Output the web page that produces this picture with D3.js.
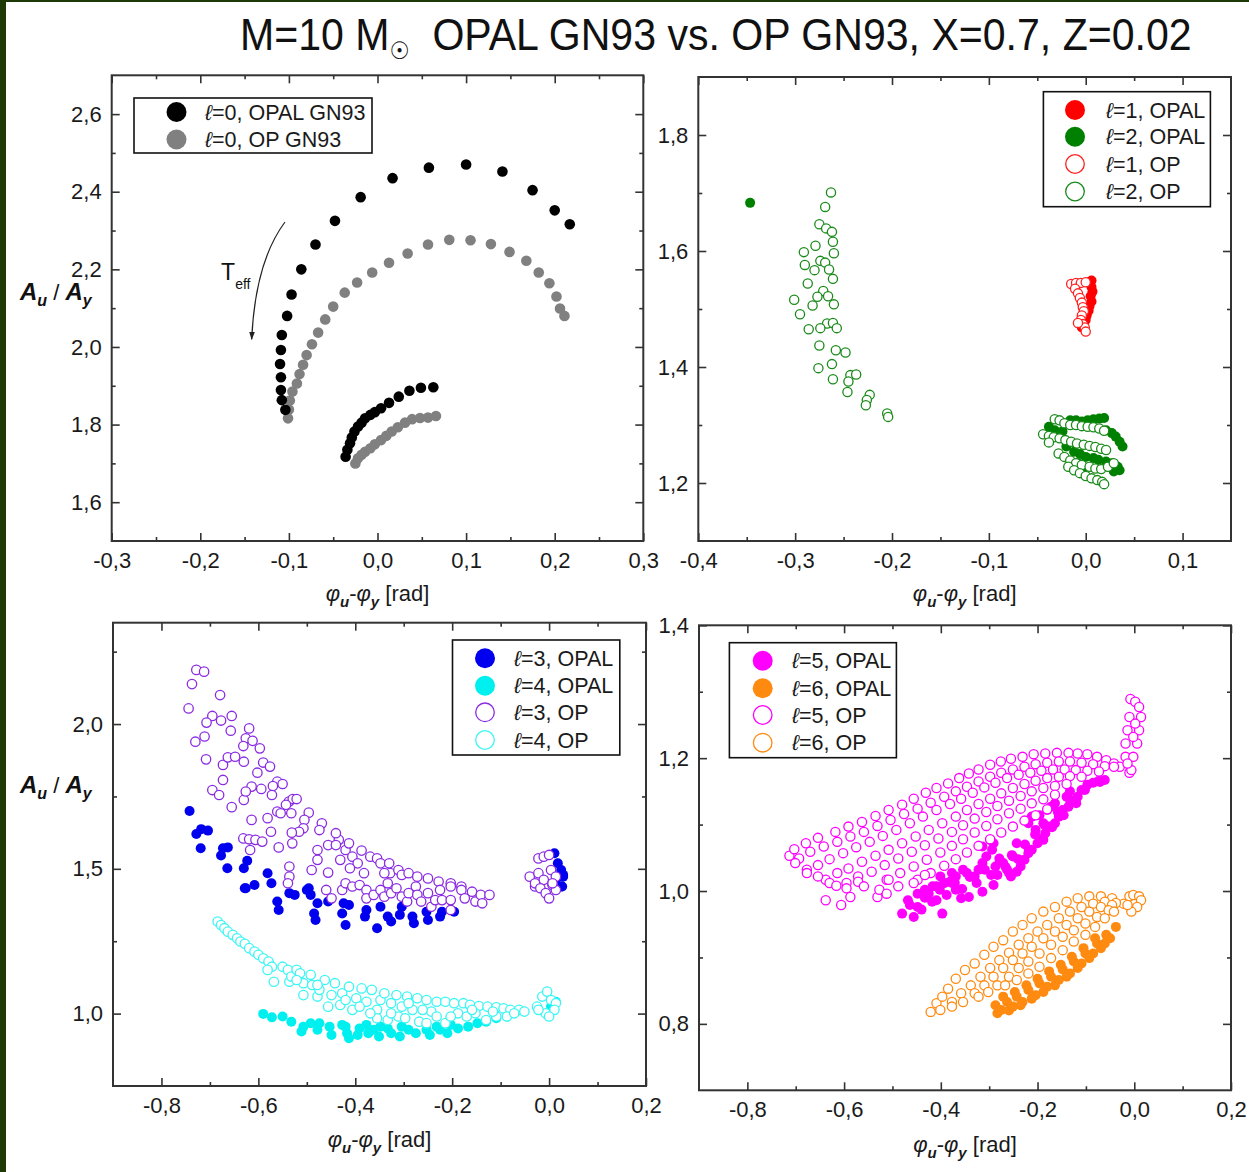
<!DOCTYPE html>
<html>
<head>
<meta charset="utf-8">
<script src="https://cdn.jsdelivr.net/npm/d3@7"></script>
<style>
  body { margin: 0; background: #fff; }
  svg text { font-family: "Liberation Sans", Arial, Helvetica, sans-serif; }
</style>
</head>
<body>
<svg id="chart" width="1249" height="1172"></svg>
<script>
// ---------- data: [phase difference φu-φy (rad), amplitude ratio Au/Ay] ----------

// l = 0, radial modes
const l0Opal = [[0.217,2.316],[0.200,2.352],[0.175,2.404],[0.141,2.452],[0.100,2.470],[0.058,2.462],[0.017,2.435],[-0.019,2.386],[-0.048,2.325],[-0.070,2.264],[-0.086,2.200],[-0.097,2.135],[-0.102,2.080],[-0.108,2.031],[-0.109,1.992],[-0.110,1.956],[-0.109,1.922],[-0.109,1.889],[-0.108,1.863],[-0.104,1.838],
  [-0.036,1.717],[-0.034,1.735],[-0.031,1.752],[-0.029,1.767],[-0.026,1.782],[-0.022,1.795],[-0.018,1.805],[-0.014,1.816],[-0.008,1.825],[-0.003,1.832],[0.004,1.842],[0.013,1.856],[0.024,1.872],[0.036,1.887],[0.049,1.895],[0.063,1.896]];
const l0Op = [[0.211,2.080],[0.206,2.099],[0.202,2.130],[0.194,2.164],[0.182,2.192],[0.168,2.222],[0.149,2.245],[0.128,2.265],[0.105,2.275],[0.081,2.276],[0.057,2.264],[0.034,2.241],[0.013,2.217],[-0.006,2.192],[-0.023,2.166],[-0.037,2.140],[-0.050,2.104],[-0.059,2.071],[-0.067,2.037],[-0.074,2.007],[-0.080,1.979],[-0.084,1.954],[-0.088,1.930],[-0.091,1.906],[-0.096,1.885],[-0.099,1.862],[-0.100,1.839],[-0.101,1.816],
  [-0.025,1.700],[-0.022,1.713],[-0.018,1.722],[-0.014,1.730],[-0.008,1.739],[-0.003,1.749],[0.004,1.760],[0.010,1.771],[0.016,1.782],[0.023,1.793],[0.031,1.805],[0.039,1.814],[0.048,1.817],[0.057,1.818],[0.066,1.822]];

// l = 1 and l = 2
const l1Opal = [[0.006,1.549],[0.003,1.546],[0.006,1.538],[0.007,1.530],[0.005,1.522],[0.006,1.513],[0.004,1.505],[0.003,1.497],[0.001,1.489],[0.000,1.481],[-0.002,1.474],[-0.004,1.468]];
const l1Op = [[-0.015,1.543],[-0.010,1.545],[-0.005,1.545],[0.000,1.546],[-0.011,1.535],[-0.008,1.527],[-0.006,1.519],[-0.004,1.511],[-0.003,1.503],[-0.002,1.496],[-0.004,1.489],[-0.005,1.481],[-0.003,1.474],[-0.001,1.468],[0.000,1.461],[-0.008,1.476]];
const l2Opal = [[-0.3465,1.683],
  [-0.038,1.297],[-0.032,1.291],[-0.024,1.289],[-0.016,1.308],[-0.010,1.308],[-0.004,1.306],[0.002,1.308],[0.008,1.310],[0.014,1.311],[0.019,1.312],[0.021,1.291],[0.027,1.286],[0.031,1.280],[0.035,1.271],[0.038,1.263],[-0.020,1.263],[-0.012,1.254],[-0.006,1.250],[0.000,1.245],[0.008,1.243],[0.013,1.240],[0.021,1.237],[0.027,1.234],[0.033,1.228],[0.035,1.222],[0.029,1.220],[-0.008,1.234],[-0.004,1.222]];
const l2Op = [[-0.263,1.701],[-0.269,1.676],[-0.275,1.646],[-0.268,1.639],[-0.262,1.633],[-0.261,1.616],[-0.279,1.609],[-0.291,1.598],[-0.260,1.596],[-0.274,1.583],[-0.269,1.580],[-0.290,1.576],[-0.280,1.567],[-0.265,1.568],[-0.261,1.552],[-0.287,1.544],[-0.271,1.531],[-0.277,1.521],[-0.266,1.522],[-0.301,1.516],[-0.282,1.506],[-0.260,1.508],[-0.295,1.491],[-0.267,1.475],[-0.261,1.476],[-0.286,1.465],[-0.274,1.467],[-0.257,1.467],[-0.275,1.437],[-0.258,1.429],[-0.248,1.425],[-0.262,1.405],[-0.276,1.398],[-0.261,1.379],[-0.243,1.386],[-0.237,1.387],[-0.245,1.375],[-0.246,1.357],[-0.223,1.352],[-0.226,1.343],[-0.227,1.334],[-0.205,1.320],[-0.204,1.314],
  [-0.032,1.310],[-0.027,1.308],[-0.022,1.303],[-0.016,1.300],[-0.010,1.300],[-0.004,1.298],[0.002,1.297],[0.008,1.296],[0.014,1.294],[0.019,1.290],
  [-0.044,1.284],[-0.038,1.281],[-0.033,1.279],[-0.027,1.277],[-0.021,1.274],[-0.015,1.271],[-0.009,1.268],[-0.002,1.266],[0.004,1.264],[0.010,1.262],[0.016,1.259],[0.021,1.257],
  [-0.038,1.270],[-0.028,1.251],[-0.022,1.245],[-0.016,1.239],[-0.010,1.234],[-0.004,1.231],[0.004,1.228],[0.010,1.225],[0.016,1.224],[0.023,1.228],[0.029,1.234],
  [-0.018,1.228],[-0.012,1.222],[-0.006,1.217],[0.000,1.212],[0.006,1.208],[0.012,1.205],[0.017,1.202],[0.019,1.198]];

// l = 3 and l = 4
const l3Opal = [[-0.742,1.700],[-0.728,1.620],[-0.718,1.637],[-0.704,1.632],[-0.719,1.571],[-0.677,1.546],[-0.673,1.571],[-0.663,1.574],[-0.664,1.502],[-0.630,1.502],[-0.623,1.528],[-0.628,1.433],[-0.608,1.444],[-0.581,1.485],[-0.573,1.450],[-0.496,1.433],
  [-0.626,1.433],[-0.561,1.387],[-0.558,1.358],[-0.536,1.416],[-0.525,1.410],[-0.500,1.427],[-0.492,1.410],[-0.478,1.381],[-0.485,1.346],[-0.482,1.323],[-0.456,1.387],[-0.424,1.381],[-0.427,1.346],[-0.420,1.306],[-0.413,1.375],[-0.380,1.335],[-0.377,1.358],[-0.355,1.295],[-0.348,1.369],[-0.333,1.335],[-0.326,1.318],[-0.308,1.341],[-0.304,1.369],[-0.282,1.335],[-0.279,1.312],[-0.253,1.352],[-0.250,1.323],[-0.225,1.335],[-0.221,1.352],[-0.196,1.352],
  [0.011,1.554],[0.018,1.519],[0.025,1.496],[0.029,1.473],[0.027,1.439],[0.029,1.479],[0.025,1.439],[0.014,1.462]];
const l3Op = [[-0.728,2.187],[-0.712,2.181],[-0.737,2.138],[-0.679,2.100],[-0.744,2.054],[-0.695,2.028],[-0.655,2.028],[-0.707,2.005],[-0.677,2.012],[-0.657,1.977],[-0.619,1.985],[-0.730,1.939],[-0.711,1.957],[-0.626,1.951],[-0.612,1.942],[-0.631,1.924],[-0.597,1.916],[-0.708,1.878],[-0.673,1.859],[-0.663,1.885],[-0.648,1.887],[-0.630,1.870],[-0.590,1.867],[-0.602,1.832],[-0.576,1.853],[-0.695,1.772],[-0.673,1.807],[-0.681,1.755],[-0.655,1.713],[-0.630,1.738],[-0.614,1.784],[-0.594,1.776],[-0.626,1.767],[-0.561,1.801],[-0.570,1.786],[-0.550,1.793],[-0.572,1.755],[-0.537,1.732],[-0.529,1.741],[-0.521,1.741],[-0.543,1.721],[-0.561,1.698],[-0.532,1.692],[-0.614,1.669],[-0.581,1.675],[-0.574,1.628],[-0.554,1.692],[-0.496,1.694],[-0.505,1.669],[-0.469,1.657],[-0.474,1.634],[-0.507,1.640],[-0.516,1.628],[-0.531,1.625],[-0.530,1.588],[-0.558,1.574],[-0.631,1.605],[-0.619,1.602],[-0.617,1.565],[-0.606,1.600],[-0.592,1.594],[-0.490,1.496],[-0.478,1.565],[-0.478,1.531],[-0.456,1.582],[-0.456,1.487],[-0.434,1.600],[-0.431,1.531],[-0.440,1.623],[-0.440,1.582],[-0.420,1.565],[-0.413,1.588],[-0.406,1.542],[-0.387,1.563],[-0.395,1.519],[-0.411,1.502],[-0.369,1.542],[-0.382,1.485],[-0.355,1.536],[-0.348,1.519],[-0.330,1.519],[-0.328,1.485],[-0.340,1.485],[-0.311,1.496],[-0.304,1.479],[-0.290,1.485],[-0.272,1.473],[-0.250,1.467],[-0.228,1.456],[-0.203,1.450],[-0.181,1.439],[-0.536,1.508],[-0.536,1.473],[-0.539,1.450],
  [-0.460,1.427],[-0.449,1.398],[-0.427,1.427],[-0.420,1.450],[-0.406,1.439],[-0.391,1.444],[-0.377,1.427],[-0.377,1.398],[-0.362,1.410],[-0.348,1.427],[-0.340,1.404],[-0.333,1.450],[-0.326,1.416],[-0.315,1.433],[-0.304,1.404],[-0.293,1.387],[-0.290,1.416],[-0.275,1.439],[-0.272,1.410],[-0.264,1.387],[-0.250,1.416],[-0.243,1.369],[-0.235,1.392],[-0.225,1.427],[-0.221,1.392],[-0.203,1.439],[-0.203,1.392],[-0.181,1.427],[-0.174,1.398],[-0.159,1.421],[-0.152,1.387],[-0.141,1.410],[-0.123,1.410],[-0.138,1.381],[-0.203,1.358],
  [-0.022,1.536],[-0.011,1.542],[0.000,1.548],[-0.040,1.473],[-0.022,1.485],[-0.011,1.462],[0.004,1.496],[0.014,1.473],[0.007,1.444],[-0.029,1.439],[-0.029,1.450],[-0.018,1.433],[-0.007,1.416],[0.000,1.398],[0.014,1.427],[0.007,1.450]];
const l4Opal = [[-0.590,0.999],[-0.572,0.987],[-0.550,0.990],[-0.532,0.972],[-0.507,0.955],[-0.511,0.938],[-0.492,0.967],[-0.474,0.967],[-0.453,0.955],[-0.449,0.926],[-0.427,0.961],[-0.417,0.932],[-0.413,0.915],[-0.395,0.926],[-0.377,0.961],[-0.373,0.932],[-0.351,0.921],[-0.348,0.955],[-0.326,0.932],[-0.308,0.921],[-0.304,0.955],[-0.290,0.944],[-0.275,0.932],[-0.253,0.944],[-0.246,0.926],[-0.225,0.944],[-0.210,0.932],[-0.188,0.949],[-0.167,0.955],[-0.148,0.967],[-0.130,0.972],[-0.109,0.984],[-0.087,0.990],
  [-0.478,0.944],[-0.420,0.955],[-0.391,0.949],[-0.362,0.944],[-0.333,0.949],[-0.232,0.955],[-0.203,0.961],[0.004,1.024],[0.014,1.041]];
const l4Op = [[-0.684,1.318],[-0.677,1.306],[-0.670,1.295],[-0.663,1.283],[-0.653,1.272],[-0.644,1.260],[-0.637,1.249],[-0.628,1.241],[-0.619,1.226],[-0.608,1.214],[-0.600,1.203],[-0.590,1.191],[-0.579,1.180],[-0.572,1.162],[-0.581,1.151],[-0.568,1.110],[-0.550,1.162],[-0.539,1.151],[-0.536,1.110],[-0.532,1.128],[-0.521,1.151],[-0.514,1.139],[-0.507,1.105],[-0.507,1.064],[-0.492,1.134],[-0.489,1.099],[-0.478,1.059],[-0.474,1.082],[-0.463,1.116],[-0.456,1.024],[-0.449,1.064],[-0.442,1.105],[-0.431,1.030],[-0.427,1.070],[-0.413,1.093],[-0.406,1.013],[-0.398,1.053],[-0.387,1.087],[-0.377,1.041],[-0.366,1.082],[-0.355,1.013],[-0.348,1.047],[-0.340,1.070],[-0.326,1.036],[-0.311,0.990],[-0.315,1.064],[-0.304,1.024],[-0.293,1.059],[-0.282,1.013],[-0.272,1.053],[-0.268,0.972],[-0.253,1.047],[-0.243,1.007],[-0.232,1.041],[-0.214,0.967],[-0.214,1.041],[-0.196,1.036],[-0.177,1.036],[-0.163,1.030],[-0.145,1.026],[-0.127,1.024],[-0.109,1.022],[-0.094,1.018],[-0.080,1.013],[-0.062,1.013],[-0.051,1.007],[-0.188,1.001],[-0.170,0.990],[-0.152,1.001],[-0.130,0.978],[-0.109,0.990],[-0.087,0.990],[-0.232,0.990],[-0.253,0.967],[-0.297,0.984],[-0.333,0.978],[-0.355,0.984],
  [-0.521,1.116],[-0.478,1.099],[-0.420,1.047],[-0.391,1.024],[-0.369,1.001],[-0.326,1.001],[-0.290,1.036],[-0.261,1.013],[-0.203,0.990],[-0.159,1.013],[-0.116,1.007],[-0.072,1.001],
  [-0.025,1.024],[-0.014,1.059],[-0.004,1.076],[0.004,1.047],[0.014,1.036],[0.011,1.013],[-0.007,1.001],[-0.022,1.013],[0.000,0.990]];

// l = 5 and l = 6
const l5Opal = [[-0.061,1.167],[-0.073,1.166],[-0.085,1.163],[-0.097,1.160],[-0.109,1.152],[-0.117,1.142],[-0.129,1.134],[-0.136,1.127],[-0.148,1.122],[-0.156,1.112],[-0.164,1.102],[-0.176,1.097],[-0.184,1.087],[-0.188,1.077],[-0.200,1.072],[-0.212,1.062],[-0.219,1.057],[-0.227,1.047],[-0.235,1.037],[-0.243,1.029],[-0.255,1.022],[-0.263,1.032],[-0.271,1.042],[-0.279,1.049],[-0.287,1.037],[-0.294,1.062],[-0.306,1.052],[-0.314,1.042],[-0.322,1.032],[-0.330,1.022],[-0.346,1.027],[-0.354,1.032],[-0.369,1.022],[-0.381,1.014],[-0.393,1.012],[-0.409,1.007],[-0.291,1.072],[-0.298,1.077],[-0.314,1.067],[-0.219,1.102],[-0.212,1.112],[-0.196,1.114],[-0.180,1.122],[-0.140,1.142],[-0.133,1.150],[-0.172,1.127],[-0.204,1.092],[-0.243,1.072],[-0.251,1.052],[-0.164,1.132],[-0.188,1.102],
  [-0.401,1.022],[-0.393,1.012],[-0.417,1.007],[-0.425,0.996],[-0.409,0.986],[-0.397,0.966],[-0.448,0.976],[-0.456,0.961],[-0.480,0.966],[-0.468,0.986],[-0.448,0.996],[-0.433,1.002],[-0.377,1.027],[-0.369,1.002],[-0.358,0.989],[-0.342,0.991],[-0.314,0.999],[-0.291,1.009],[-0.283,1.024],[-0.259,1.027],[-0.377,1.012],
  [-0.071,1.164],[-0.102,1.152],[-0.133,1.137],[-0.158,1.119],[-0.185,1.099],[-0.205,1.085],[-0.226,1.070],[-0.253,1.054],[-0.278,1.044],[-0.309,1.032],[-0.340,1.021],[-0.371,1.012],[-0.402,1.002],[-0.433,0.990],[-0.464,0.979],
  [-0.120,1.132],[-0.146,1.114],[-0.170,1.096],[-0.195,1.078],[-0.218,1.062],[-0.240,1.048],[-0.266,1.036],[-0.296,1.024],[-0.326,1.012],[-0.356,1.003],[-0.388,0.994],[-0.418,0.984],[-0.440,0.972]];
const l5Op = [[-0.713,1.053],[-0.703,1.063],[-0.679,1.072],[-0.654,1.080],[-0.618,1.089],[-0.591,1.097],[-0.563,1.104],[-0.535,1.113],[-0.508,1.122],[-0.480,1.130],[-0.456,1.139],[-0.431,1.148],[-0.409,1.155],[-0.385,1.162],[-0.362,1.170],[-0.342,1.177],[-0.322,1.183],[-0.298,1.190],[-0.276,1.195],[-0.255,1.199],[-0.231,1.202],[-0.208,1.206],[-0.184,1.207],[-0.160,1.208],[-0.136,1.208],[-0.117,1.207],[-0.097,1.206],[-0.077,1.202],[-0.058,1.197],[-0.042,1.192],[-0.030,1.187],
  [-0.010,1.178],[-0.018,1.202],[-0.018,1.222],[-0.014,1.242],[-0.010,1.262],[-0.008,1.289],[0.002,1.285],[0.010,1.277],[0.014,1.262],[0.010,1.242],[0.006,1.222],[-0.002,1.202],[-0.006,1.182],[-0.014,1.192],[0.002,1.252],[-0.002,1.232],
  [-0.693,1.049],[-0.670,1.059],[-0.642,1.067],[-0.614,1.074],[-0.587,1.082],[-0.559,1.089],[-0.531,1.098],[-0.504,1.107],[-0.476,1.116],[-0.448,1.124],[-0.421,1.133],[-0.393,1.142],[-0.369,1.150],[-0.346,1.157],[-0.322,1.165],[-0.298,1.172],[-0.275,1.178],[-0.251,1.183],[-0.227,1.187],[-0.204,1.191],[-0.180,1.193],[-0.156,1.195],[-0.133,1.195],[-0.109,1.193],[-0.085,1.191],[-0.061,1.188],[-0.042,1.187],
  [-0.677,1.032],[-0.654,1.039],[-0.630,1.048],[-0.602,1.057],[-0.575,1.066],[-0.547,1.074],[-0.520,1.083],[-0.492,1.092],[-0.464,1.102],[-0.437,1.112],[-0.409,1.122],[-0.381,1.131],[-0.358,1.139],[-0.334,1.148],[-0.310,1.156],[-0.287,1.163],[-0.263,1.170],[-0.239,1.175],[-0.215,1.178],[-0.192,1.181],[-0.168,1.183],[-0.144,1.183],[-0.121,1.182],[-0.097,1.181],[-0.073,1.180],
  [-0.638,1.017],[-0.614,1.027],[-0.591,1.034],[-0.563,1.044],[-0.535,1.053],[-0.508,1.062],[-0.480,1.072],[-0.452,1.082],[-0.425,1.092],[-0.397,1.102],[-0.369,1.112],[-0.346,1.122],[-0.322,1.131],[-0.298,1.139],[-0.275,1.147],[-0.251,1.155],[-0.227,1.161],[-0.204,1.166],[-0.180,1.170],[-0.156,1.172],[-0.133,1.173],[-0.109,1.172],
  [-0.595,1.012],[-0.571,1.022],[-0.543,1.029],[-0.516,1.039],[-0.488,1.049],[-0.460,1.059],[-0.433,1.069],[-0.405,1.079],[-0.377,1.089],[-0.354,1.099],[-0.330,1.109],[-0.306,1.119],[-0.283,1.128],[-0.259,1.136],[-0.235,1.143],[-0.212,1.150],[-0.188,1.155],[-0.164,1.158],[-0.140,1.161],
  [-0.512,1.017],[-0.484,1.027],[-0.456,1.037],[-0.429,1.047],[-0.401,1.058],[-0.377,1.068],[-0.354,1.078],[-0.330,1.088],[-0.306,1.098],[-0.283,1.108],[-0.259,1.117],[-0.235,1.124],[-0.212,1.132],[-0.188,1.138],[-0.164,1.145],
  [-0.448,1.017],[-0.421,1.027],[-0.393,1.038],[-0.369,1.048],[-0.346,1.058],[-0.322,1.068],[-0.298,1.078],[-0.275,1.088],[-0.251,1.097],[-0.227,1.106],[-0.204,1.114],[-0.180,1.123],
  [-0.638,0.986],[-0.606,0.979],[-0.630,1.012],[-0.616,1.008],[-0.595,1.004],[-0.587,0.991],[-0.571,1.014],[-0.559,1.007],[-0.531,0.991],[-0.527,1.002],[-0.512,0.996],[-0.508,1.017],[-0.488,1.007],[-0.456,1.012],[-0.433,1.024],[-0.677,1.027],[-0.701,1.042],[-0.654,1.022]];
const l6Opal = [[-0.283,0.816],[-0.259,0.820],[-0.235,0.828],[-0.212,0.838],[-0.188,0.848],[-0.164,0.858],[-0.140,0.871],[-0.117,0.884],[-0.093,0.899],[-0.069,0.914],[-0.050,0.929],
  [-0.287,0.828],[-0.263,0.833],[-0.243,0.841],[-0.219,0.851],[-0.196,0.861],[-0.172,0.871],[-0.148,0.882],[-0.125,0.894],[-0.101,0.906],[-0.077,0.921],[-0.058,0.934],[-0.038,0.946],
  [-0.275,0.821],[-0.251,0.826],[-0.231,0.833],[-0.204,0.843],[-0.180,0.856],[-0.156,0.866],[-0.133,0.876],[-0.109,0.891],[-0.085,0.906],[-0.061,0.921],
  [-0.271,0.841],[-0.247,0.848],[-0.223,0.858],[-0.200,0.868],[-0.176,0.879],[-0.152,0.889],[-0.129,0.901],[-0.105,0.914],[-0.081,0.929]];
const l6Op = [[-0.421,0.818],[-0.409,0.831],[-0.397,0.841],[-0.385,0.853],[-0.369,0.868],[-0.350,0.881],[-0.330,0.891],[-0.310,0.904],[-0.291,0.916],[-0.271,0.926],[-0.251,0.939],[-0.231,0.949],[-0.212,0.959],[-0.188,0.969],[-0.164,0.976],[-0.140,0.984],[-0.117,0.989],[-0.093,0.992],[-0.069,0.992],[-0.046,0.989],[-0.022,0.981],
  [-0.010,0.992],[-0.002,0.994],[0.010,0.992],[0.014,0.986],[0.006,0.976],[-0.006,0.969],[-0.014,0.979],
  [-0.401,0.821],[-0.377,0.833],[-0.358,0.846],[-0.338,0.858],[-0.318,0.871],[-0.298,0.884],[-0.279,0.896],[-0.259,0.907],[-0.239,0.919],[-0.219,0.929],[-0.200,0.939],[-0.180,0.949],[-0.156,0.959],[-0.133,0.969],[-0.109,0.976],[-0.085,0.981],[-0.061,0.984],[-0.038,0.982],
  [-0.377,0.826],[-0.354,0.833],[-0.330,0.846],[-0.310,0.858],[-0.291,0.871],[-0.271,0.884],[-0.251,0.896],[-0.231,0.906],[-0.212,0.916],[-0.188,0.929],[-0.164,0.939],[-0.140,0.949],[-0.117,0.959],[-0.093,0.969],[-0.069,0.976],[-0.046,0.979],
  [-0.322,0.841],[-0.302,0.848],[-0.283,0.858],[-0.259,0.871],[-0.239,0.884],[-0.219,0.894],[-0.196,0.906],[-0.172,0.919],[-0.148,0.931],[-0.125,0.941],[-0.101,0.951],[-0.077,0.961],[-0.053,0.971],
  [-0.267,0.858],[-0.243,0.866],[-0.219,0.876],[-0.196,0.886],[-0.172,0.899],[-0.148,0.911],[-0.125,0.924],[-0.101,0.934],[-0.081,0.946],[-0.061,0.959],[-0.042,0.969]];

// ---------- axis ticks ----------
const p1XMajor = [-0.3,-0.2,-0.1,0,0.1,0.2,0.3], p1XMinor = [-0.25,-0.15,-0.05,0.05,0.15,0.25];
const p1YMajor = [1.6,1.8,2.0,2.2,2.4,2.6],      p1YMinor = [1.7,1.9,2.1,2.3,2.5];
const p2XMajor = [-0.4,-0.3,-0.2,-0.1,0,0.1],    p2XMinor = [-0.35,-0.25,-0.15,-0.05,0.05];
const p2YMajor = [1.2,1.4,1.6,1.8],              p2YMinor = [1.3,1.5,1.7];
const p3XMajor = [-0.8,-0.6,-0.4,-0.2,0,0.2],    p3XMinor = [-0.7,-0.5,-0.3,-0.1,0.1];
const p3YMajor = [1.0,1.5,2.0],                  p3YMinor = [1.25,1.75,2.25];
const p4XMajor = [-0.8,-0.6,-0.4,-0.2,0,0.2],    p4XMinor = [-0.7,-0.5,-0.3,-0.1,0.1];
const p4YMajor = [0.8,1.0,1.2,1.4],              p4YMinor = [0.9,1.1,1.3];

// ---------- drawing ----------
const svg = d3.select("#chart");
svg.append("rect").attr("width", 1249).attr("height", 1172).attr("fill", "#fff");
svg.append("rect").attr("x", 0).attr("y", 0).attr("width", 6).attr("height", 1172).attr("fill", "#1e3806");
svg.append("rect").attr("x", 0).attr("y", 0).attr("width", 1249).attr("height", 2).attr("fill", "#1e3806");

const locale = d3.formatLocale({decimal: ",", thousands: " ", grouping: [3], currency: ["", ""], minus: "-"});
const fmt = locale.format(".1f");
const FRAME = "#333";

function panel(cfg) {
  const g = svg.append("g");
  const x = d3.scaleLinear().domain(cfg.xDomain).range([cfg.left, cfg.right]);
  const y = d3.scaleLinear().domain(cfg.yDomain).range([cfg.bottom, cfg.top]);

  const styleAxis = (sel) => {
    sel.select(".domain").remove();
    sel.selectAll(".tick line").attr("stroke", FRAME).attr("stroke-width", 1.6);
    sel.selectAll(".tick text").attr("fill", "#1a1a1a").style("font-size", "22px");
  };
  // labelled axes
  g.append("g").attr("transform", `translate(0,${cfg.bottom})`)
    .call(d3.axisBottom(x).tickValues(cfg.xMajor).tickSizeInner(-8).tickSizeOuter(0).tickPadding(11).tickFormat(fmt))
    .call(styleAxis);
  g.append("g").attr("transform", `translate(${cfg.left},0)`)
    .call(d3.axisLeft(y).tickValues(cfg.yMajor).tickSizeInner(-8).tickSizeOuter(0).tickPadding(10).tickFormat(fmt))
    .call(styleAxis);
  // mirrored and minor ticks
  const blank = () => "";
  [[d3.axisBottom, `translate(0,${cfg.bottom})`, x, cfg.xMinor, 4],
   [d3.axisTop, `translate(0,${cfg.top})`, x, cfg.xMajor, 8],
   [d3.axisTop, `translate(0,${cfg.top})`, x, cfg.xMinor, 4],
   [d3.axisLeft, `translate(${cfg.left},0)`, y, cfg.yMinor, 4],
   [d3.axisRight, `translate(${cfg.right},0)`, y, cfg.yMajor, 8],
   [d3.axisRight, `translate(${cfg.right},0)`, y, cfg.yMinor, 4]
  ].forEach(([ax, tr, sc, vals, len]) => {
    g.append("g").attr("transform", tr)
      .call(ax(sc).tickValues(vals).tickSizeInner(-len).tickSizeOuter(0).tickFormat(blank))
      .call(styleAxis);
  });
  g.append("rect").attr("x", cfg.left).attr("y", cfg.top)
    .attr("width", cfg.right - cfg.left).attr("height", cfg.bottom - cfg.top)
    .attr("fill", "none").attr("stroke", FRAME).attr("stroke-width", 2);

  // data series
  const plot = g.append("g");
  cfg.series.forEach(s => {
    plot.append("g").selectAll("circle").data(s.data).join("circle")
      .attr("cx", d => x(d[0])).attr("cy", d => y(d[1])).attr("r", s.r)
      .attr("fill", s.filled ? s.color : "#fff")
      .attr("stroke", s.color).attr("stroke-width", s.filled ? 0 : 1.3);
  });

  // legend
  const L = cfg.legend;
  const lg = g.append("g");
  lg.append("rect").attr("x", L.x0).attr("y", L.y0).attr("width", L.x1 - L.x0).attr("height", L.y1 - L.y0)
    .attr("fill", "#fff").attr("stroke", "#111").attr("stroke-width", 1.6);
  L.items.forEach((it, i) => {
    const cy = L.rowY[i];
    lg.append("circle").attr("cx", L.mx).attr("cy", cy).attr("r", it.filled ? 10 : 9.3)
      .attr("fill", it.filled ? it.color : "#fff").attr("stroke", it.color).attr("stroke-width", it.filled ? 0 : 1.3);
    const t = lg.append("text").attr("x", L.tx).attr("y", cy + 7.5).style("font-size", "21.5px").attr("fill", "#1a1a1a");
    t.append("tspan").style("font-style", "italic").text("ℓ");
    t.append("tspan").text(it.label);
  });

  // x axis title
  const xt = g.append("text").attr("x", (cfg.left + cfg.right) / 2).attr("y", cfg.xTitleY)
    .attr("text-anchor", "middle").style("font-size", "22px").attr("fill", "#1a1a1a");
  xt.append("tspan").style("font-style", "italic").text("φ");
  xt.append("tspan").style("font-style", "italic").style("font-weight", "bold").style("font-size", "15px").attr("dy", 6).text("u");
  xt.append("tspan").attr("dy", -6).text("-");
  xt.append("tspan").style("font-style", "italic").text("φ");
  xt.append("tspan").style("font-style", "italic").style("font-weight", "bold").style("font-size", "15px").attr("dy", 6).text("y");
  xt.append("tspan").attr("dy", -6).text(" [rad]");

  // y axis title
  if (cfg.yTitleY) {
    const yt = g.append("text").attr("x", 20).attr("y", cfg.yTitleY).style("font-size", "24px").attr("fill", "#111")
      .style("white-space", "pre");
    yt.append("tspan").style("font-style", "italic").style("font-weight", "bold").text("A");
    yt.append("tspan").style("font-style", "italic").style("font-weight", "bold").style("font-size", "16px").attr("dy", 6).text("u");
    yt.append("tspan").attr("dy", -6).style("font-size", "22px").text(" / ");
    yt.append("tspan").style("font-style", "italic").style("font-weight", "bold").text("A");
    yt.append("tspan").style("font-style", "italic").style("font-weight", "bold").style("font-size", "16px").attr("dy", 6).text("y");
  }
  return {g, x, y};
}

// top left: radial modes
const P1 = panel({
  left: 111.7, right: 643.3, top: 75.3, bottom: 541,
  xDomain: [-0.3, 0.3], yDomain: [1.5, 2.7],
  xMajor: p1XMajor, xMinor: p1XMinor, yMajor: p1YMajor, yMinor: p1YMinor,
  series: [
    {data: l0Op, color: "#808080", filled: true, r: 5.3},
    {data: l0Opal, color: "#000", filled: true, r: 5.3}
  ],
  legend: {x0: 134, y0: 98, x1: 372, y1: 153, mx: 176.5, tx: 205, rowY: [112, 139.5],
    items: [{label: "=0, OPAL GN93", color: "#000", filled: true},
            {label: "=0, OP GN93", color: "#808080", filled: true}]},
  xTitleY: 601, yTitleY: 300
});

// effective temperature direction
{
  const {g, x, y} = P1;
  const defs = svg.append("defs");
  defs.append("marker").attr("id", "arrowhead").attr("viewBox", "0 0 10 10").attr("refX", 9).attr("refY", 5)
    .attr("markerWidth", 7).attr("markerHeight", 7).attr("orient", "auto")
    .append("path").attr("d", "M0,1.5 L10,5 L0,8.5 Z").attr("fill", "#222");
  const arc = [[-0.1044, 2.322], [-0.1380, 2.219], [-0.1420, 2.020]];
  const p = d3.path();
  p.moveTo(x(arc[0][0]), y(arc[0][1]));
  p.quadraticCurveTo(x(arc[1][0]), y(arc[1][1]), x(arc[2][0]), y(arc[2][1]));
  g.append("path").attr("d", p.toString()).attr("fill", "none").attr("stroke", "#222").attr("stroke-width", 1.2)
    .attr("marker-end", "url(#arrowhead)");
  const t = g.append("text").attr("x", x(-0.1765)).attr("y", y(2.173)).style("font-size", "23px").attr("fill", "#111");
  t.append("tspan").text("T");
  t.append("tspan").attr("dy", 9).style("font-size", "14px").text("eff");
}

// top right: dipole and quadrupole modes
panel({
  left: 698.3, right: 1231, top: 77, bottom: 541,
  xDomain: [-0.4, 0.15], yDomain: [1.1, 1.9],
  xMajor: p2XMajor, xMinor: p2XMinor, yMajor: p2YMajor, yMinor: p2YMinor,
  series: [
    {data: l1Opal, color: "#ff0000", filled: true, r: 5},
    {data: l2Opal, color: "#008000", filled: true, r: 5},
    {data: l1Op, color: "#ff2020", filled: false, r: 4.6},
    {data: l2Op, color: "#1a8a1a", filled: false, r: 4.6}
  ],
  legend: {x0: 1043.4, y0: 91.7, x1: 1210.4, y1: 206.7, mx: 1075, tx: 1106, rowY: [110, 136.7, 164, 191.5],
    items: [{label: "=1, OPAL", color: "#ff0000", filled: true},
            {label: "=2, OPAL", color: "#008000", filled: true},
            {label: "=1, OP", color: "#ff2020", filled: false},
            {label: "=2, OP", color: "#1a8a1a", filled: false}]},
  xTitleY: 601
});

// bottom left: l = 3, 4
panel({
  left: 113, right: 646, top: 622.7, bottom: 1086,
  xDomain: [-0.9, 0.2], yDomain: [0.75, 2.35],
  xMajor: p3XMajor, xMinor: p3XMinor, yMajor: p3YMajor, yMinor: p3YMinor,
  series: [
    {data: l4Opal, color: "#00f0f0", filled: true, r: 5},
    {data: l4Op, color: "#3cf5f5", filled: false, r: 4.7},
    {data: l3Opal, color: "#0000ee", filled: true, r: 5},
    {data: l3Op, color: "#8a2be2", filled: false, r: 4.7}
  ],
  legend: {x0: 452.5, y0: 640, x1: 619.8, y1: 755, mx: 485, tx: 514, rowY: [658.3, 685.7, 712.3, 740],
    items: [{label: "=3, OPAL", color: "#0000ee", filled: true},
            {label: "=4, OPAL", color: "#00f0f0", filled: true},
            {label: "=3, OP", color: "#8a2be2", filled: false},
            {label: "=4, OP", color: "#3cf5f5", filled: false}]},
  xTitleY: 1147, yTitleY: 793
});

// bottom right: l = 5, 6
panel({
  left: 699, right: 1231, top: 625.3, bottom: 1090.3,
  xDomain: [-0.9, 0.2], yDomain: [0.7, 1.4],
  xMajor: p4XMajor, xMinor: p4XMinor, yMajor: p4YMajor, yMinor: p4YMinor,
  series: [
    {data: l5Opal, color: "#ff00ff", filled: true, r: 5},
    {data: l6Opal, color: "#ff8a10", filled: true, r: 5},
    {data: l5Op, color: "#ff00ff", filled: false, r: 4.6},
    {data: l6Op, color: "#ff8a10", filled: false, r: 4.6}
  ],
  legend: {x0: 729.4, y0: 642.7, x1: 896.4, y1: 757.7, mx: 762.7, tx: 792, rowY: [660.7, 688.3, 715, 742.7],
    items: [{label: "=5, OPAL", color: "#ff00ff", filled: true},
            {label: "=6, OPAL", color: "#ff8a10", filled: true},
            {label: "=5, OP", color: "#ff00ff", filled: false},
            {label: "=6, OP", color: "#ff8a10", filled: false}]},
  xTitleY: 1152
});

// title
{
  const title = svg.append("text").attr("x", 0).attr("y", 0).style("font-size", "44px")
    .style("white-space", "pre").attr("fill", "#111");
  title.append("tspan").text("M=10 M");
  title.append("tspan").attr("dy", 9).style("font-size", "24px")
    .style("font-family", "'DejaVu Sans', sans-serif").text("☉");
  title.append("tspan").attr("dy", -9).text("  OPAL GN93 vs. OP GN93, X=0.7, Z=0.02");
  const w = title.node().getComputedTextLength();
  title.attr("transform", `translate(240,50) scale(${952 / w},1)`);
}
</script>
</body>
</html>
